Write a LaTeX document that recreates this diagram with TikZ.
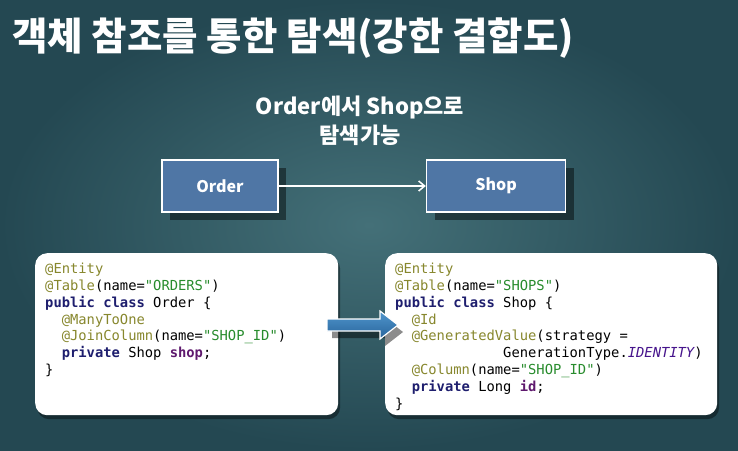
\documentclass[tikz,border=0pt]{standalone}
\usepackage{fontspec}
\usepackage{tikz}
\usetikzlibrary{arrows.meta,positioning,shadows}
\newfontfamily\kr{Noto Sans CJK KR}
\newfontfamily\cd{DejaVu Sans Mono}
\definecolor{slate}{RGB}{36,72,82}
\definecolor{slatelt}{RGB}{68,112,120}
\definecolor{steel}{RGB}{79,118,165}
\definecolor{annoc}{RGB}{135,135,45}
\definecolor{strc}{RGB}{40,140,45}
\definecolor{kwc}{RGB}{30,30,110}
\definecolor{fldc}{RGB}{95,25,110}
\definecolor{idc}{RGB}{70,20,140}
\definecolor{arrtop}{RGB}{80,150,205}
\definecolor{arrbot}{RGB}{40,100,155}
\newcommand\annot[1]{\textcolor{annoc}{#1}}
\newcommand\strv[1]{\textcolor{strc}{#1}}
\newcommand\kwd[1]{\textcolor{kwc}{\bfseries #1}}
\newcommand\fldv[1]{\textcolor{fldc}{\bfseries #1}}
\tikzset{head/.style={text=white,inner sep=0,font=\kr\bfseries\fontsize{38.5}{46}\selectfont},sub/.style={text=white,inner sep=0,align=center,font=\kr\bfseries\fontsize{22}{29}\selectfont},ent/.style={draw=white,line width=1.6pt,fill=steel,minimum width=116pt,minimum height=52pt,text=white,font=\kr\bfseries\fontsize{16}{19}\selectfont,drop shadow={shadow xshift=8pt,shadow yshift=-8pt,opacity=.45,fill=black}},card/.style={fill=white,rounded corners=12pt,anchor=north west,minimum height=162pt,drop shadow={shadow xshift=2pt,shadow yshift=-4pt,opacity=.4,fill=black}},code/.style={inner sep=0,align=left,font=\cd\fontsize{13.8}{16.8}\selectfont},nav/.style={-{Straight Barb[length=6pt,width=10pt]},line width=1.5pt,draw=white},push/.style={top color=arrtop,bottom color=arrbot,draw=white,line width=1.2pt}}
\begin{document}
\begin{tikzpicture}[x=1pt,y=-1pt,node distance=147pt]
\useasboundingbox (0,0) rectangle (738,450);
\shade[inner color=slatelt,outer color=slate] (0,0) rectangle (738,450);
\node[head,anchor=base west] (title) at (12,50) {객체 참조를 통한 탐색(강한 결합도)};
\node[sub,anchor=north] (sub) at (360,96) {Order에서 Shop으로\\탐색가능};
\node[ent] (order) at (220,186) {Order};
\node[ent,right=of order,minimum width=139pt] (shop) {Shop};
\draw[nav] (order)--(shop);
\node[card,minimum width=303pt] (ordcard) at (35,253) {};
\node[card,minimum width=332pt] (shopcard) at (385,253) {};
\node[code,below right=10pt and 10pt of ordcard.north west] (ordcode) {\annot{@Entity}\\\annot{@Table}(name=\strv{"ORDERS"})\\\kwd{public class} Order \{\\~~\annot{@ManyToOne}\\~~\annot{@JoinColumn}(name=\strv{"SHOP\_ID"})\\~~\kwd{private} Shop \fldv{shop};\\\}};
\node[code,below right=10pt and 10pt of shopcard.north west] (shopcode) {\annot{@Entity}\\\annot{@Table}(name=\strv{"SHOPS"})\\\kwd{public class} Shop \{\\~~\annot{@Id}\\~~\annot{@GeneratedValue}(strategy =\\~~~~~~~~~~~~~GenerationType.\textcolor{idc}{\itshape IDENTITY})\\~~\annot{@Column}(name=\strv{"SHOP\_ID"})\\~~\kwd{private} Long \fldv{id};\\\}};
\fill[black,opacity=.45] (332,326)--(385,326)--(385,318)--(403,332)--(385,346)--(385,338)--(332,338)--cycle;
\path[push] (327,319)--(380,319)--(380,311)--(398,325)--(380,339)--(380,331)--(327,331)--cycle;
\end{tikzpicture}
\end{document}
